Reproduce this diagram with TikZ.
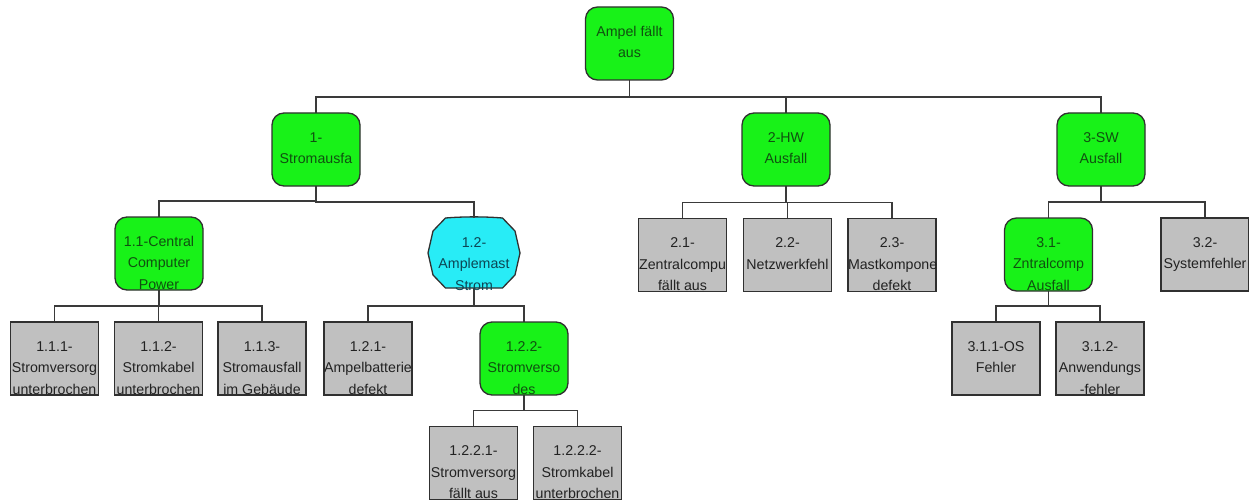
\documentclass[tikz,border=0pt]{standalone}
\usepackage{fontspec}
\setmainfont{Liberation Sans}
\usetikzlibrary{backgrounds}

\definecolor{evgreen}{RGB}{24,242,24}
\definecolor{evcyan}{RGB}{40,236,246}
\definecolor{evgray}{RGB}{192,192,192}
\definecolor{boxline}{RGB}{48,48,48}
\definecolor{linecol}{RGB}{58,58,58}
\definecolor{txtgreen}{RGB}{16,80,16}
\definecolor{txtcyan}{RGB}{12,70,84}
\definecolor{txtgray}{RGB}{34,34,34}

% text block of a tree box: fixed size, lines hung from the top
\newcommand{\ftlines}[2][73pt]{\parbox[c][#1][t]{88pt}{\centering
  \fontsize{14.2pt}{21.5pt}\selectfont\vspace*{14pt}\strut#2\par}}

\tikzset{
  treebox/.style={inner sep=0pt, outer sep=0pt, line width=1.3pt, draw=boxline},
  eventbox/.style={treebox, fill=evgreen, rounded corners=12pt, text=txtgreen},
  basicbox/.style={treebox, fill=evgray, text=txtgray},
  undevbox/.style={inner sep=0pt, outer sep=0pt, text=txtcyan},
  octline/.style={line width=1.3pt, draw=boxline, fill=evcyan},
  link/.style={draw=linecol, line width=1.2pt},
}

\begin{document}
\begin{tikzpicture}[x=1pt, y=-1pt]
\useasboundingbox (0,0) rectangle (1249,500);

% top event
\node[eventbox] (root) at (629.5,43.5) {\ftlines{Ampel fällt\\aus}};

% first level
\node[eventbox] (n1) at (316,149.5) {\ftlines{1-\\Stromausfa}};
\node[eventbox] (n2) at (786,149.5) {\ftlines{2-HW\\Ausfall}};
\node[eventbox] (n3) at (1101,149.5) {\ftlines{3-SW\\Ausfall}};

% second level
\node[eventbox] (n11) at (159,253.5) {\ftlines{1.1-Central\\Computer\\Power}};
\node[undevbox] (n12) at (474,253) {\ftlines[70pt]{1.2-\\Amplemast\\Strom}};
\node[basicbox] (n21) at (682.5,255) {\ftlines{2.1-\\Zentralcompu\\fällt aus}};
\node[basicbox] (n22) at (787.5,255) {\ftlines{2.2-\\Netzwerkfehl}};
\node[basicbox] (n23) at (892,255) {\ftlines{2.3-\\Mastkompone\\defekt}};
\node[eventbox] (n31) at (1048.5,254.5) {\ftlines{3.1-\\Zntralcomp\\Ausfall}};
\node[basicbox] (n32) at (1205,254.5) {\ftlines{3.2-\\Systemfehler}};

% third level
\node[basicbox] (n111) at (54.5,358.5) {\ftlines{1.1.1-\\Stromversorg\\unterbrochen}};
\node[basicbox] (n112) at (158.5,358.5) {\ftlines{1.1.2-\\Stromkabel\\unterbrochen}};
\node[basicbox] (n113) at (262,358.5) {\ftlines{1.1.3-\\Stromausfall\\im Gebäude}};
\node[basicbox] (n121) at (368,358.5) {\ftlines{1.2.1-\\Ampelbatterie\\defekt}};
\node[eventbox] (n122) at (524,358.5) {\ftlines{1.2.2-\\Stromverso\\des}};
\node[basicbox] (n311) at (996,358.5) {\ftlines{3.1.1-OS\\Fehler}};
\node[basicbox] (n312) at (1100,358.5) {\ftlines{3.1.2-\\Anwendungs\\-fehler}};

% fourth level
\node[basicbox] (n1221) at (473.5,463) {\ftlines{1.2.2.1-\\Stromversorg\\fällt aus}};
\node[basicbox] (n1222) at (577.5,463) {\ftlines{1.2.2.2-\\Stromkabel\\unterbrochen}};

\begin{scope}[on background layer]
  % page ground
  \fill[white] (0,0) rectangle (1249,500);

  % undeveloped event outline behind its text
  \draw[octline]
    ([shift={(-28.5,-35)}]n12.center) .. controls ([shift={(-10,-36.5)}]n12.center)
      and ([shift={(10,-36.5)}]n12.center) .. ([shift={(28.5,-35)}]n12.center)
    -- ([shift={(41,-22)}]n12.center) -- ([shift={(46,0)}]n12.center)
    -- ([shift={(41,22)}]n12.center) -- ([shift={(28.5,35)}]n12.center)
    -- ([shift={(-28.5,35)}]n12.center) -- ([shift={(-41,22)}]n12.center)
    -- ([shift={(-46,0)}]n12.center) -- ([shift={(-41,-22)}]n12.center) -- cycle;

  % connectors: down from the parent, along a bar, down to the child
  \foreach \p/\c in {root/n1, root/n2, root/n3,
                     n1/n11, n1/n12, n2/n21, n2/n22, n2/n23, n3/n31, n3/n32,
                     n11/n111, n11/n112, n11/n113, n12/n121, n12/n122,
                     n31/n311, n31/n312, n122/n1221, n122/n1222}
    \draw[link] (\p.south) |- ([yshift=16pt]\c.north) -- (\c.north);
\end{scope}
\end{tikzpicture}
\end{document}
